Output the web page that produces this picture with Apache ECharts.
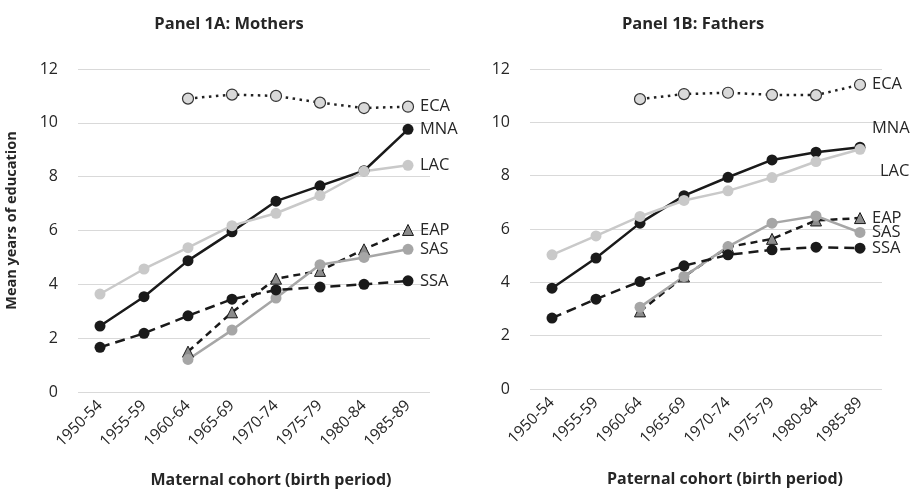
<!DOCTYPE html>
<html>
<head>
<meta charset="utf-8">
<script src="https://cdn.jsdelivr.net/npm/echarts@6/dist/echarts.min.js"></script>
<style>html,body{margin:0;padding:0;background:#fff;}#c{width:920px;height:496px;}</style>
</head>
<body>
<div id="c"></div>
<script>
const categories = ['1950-54','1955-59','1960-64','1965-69','1970-74','1975-79','1980-84','1985-89'];
const yTicks = [0, 2, 4, 6, 8, 10, 12];
const regions = ['ECA','MNA','LAC','EAP','SAS','SSA'];

// Panel 1A: Mothers
const mothersECA = [null, null, 10.9, 11.05, 11.0, 10.75, 10.55, 10.6];
const mothersMNA = [2.45, 3.54, 4.88, 5.95, 7.09, 7.66, 8.22, 9.76];
const mothersLAC = [3.64, 4.57, 5.36, 6.18, 6.64, 7.3, 8.2, 8.42];
const mothersEAP = [null, null, 1.5, 2.96, 4.21, 4.5, 5.3, 6.02];
const mothersSAS = [null, null, 1.21, 2.3, 3.49, 4.73, 5.0, 5.3];
const mothersSSA = [1.66, 2.18, 2.83, 3.45, 3.79, 3.9, 4.0, 4.13];

// Panel 1B: Fathers
const fathersECA = [null, null, 10.87, 11.06, 11.11, 11.03, 11.02, 11.41];
const fathersMNA = [3.78, 4.91, 6.22, 7.25, 7.94, 8.59, 8.88, 9.07];
const fathersLAC = [5.03, 5.74, 6.47, 7.07, 7.43, 7.93, 8.53, 8.99];
const fathersEAP = [null, null, 2.91, 4.22, 5.32, 5.63, 6.32, 6.41];
const fathersSAS = [null, null, 3.07, 4.22, 5.34, 6.22, 6.49, 5.87];
const fathersSSA = [2.66, 3.37, 4.03, 4.62, 5.03, 5.22, 5.32, 5.28];

const FONT = 'Open Sans';
const TXT = '#262626';

const styles = {
  ECA: {color:'#222', lineType:[2.5,4.5], symbol:'circle', fill:'#d9d9d9', border:'#333', bw:1.2, lw:2.5},
  MNA: {color:'#1a1a1a', lineType:'solid', symbol:'circle', fill:'#1a1a1a', border:'#1a1a1a', bw:0, lw:2.5},
  LAC: {color:'#c9c9c9', lineType:'solid', symbol:'circle', fill:'#c9c9c9', border:'#c9c9c9', bw:0, lw:2.5},
  EAP: {color:'#1a1a1a', lineType:[7,5], symbol:'triangle', fill:'#8c8c8c', border:'#1a1a1a', bw:1, lw:2.5},
  SAS: {color:'#a6a6a6', lineType:'solid', symbol:'circle', fill:'#a6a6a6', border:'#a6a6a6', bw:0, lw:2.5},
  SSA: {color:'#1a1a1a', lineType:[10,6], symbol:'circle', fill:'#1a1a1a', border:'#1a1a1a', bw:0, lw:2.5}
};

function mkSeries(name, data, idx, off) {
  const s = styles[name];
  return {
    name: name, type: 'line', xAxisIndex: idx, yAxisIndex: idx, data: data,
    symbol: s.symbol, symbolSize: 11,
    showAllSymbol: true, animation: false,
    lineStyle: {color: s.color, width: s.lw, type: s.lineType},
    itemStyle: {color: s.fill, borderColor: s.border, borderWidth: s.bw},
    endLabel: {show: true, formatter: '{a}', color: TXT, fontFamily: FONT, fontSize: 16.5, distance: 12, offset: off || [0,0]},
    emphasis: {disabled: true}
  };
}

const motherSets = {ECA: mothersECA, MNA: mothersMNA, LAC: mothersLAC, EAP: mothersEAP, SAS: mothersSAS, SSA: mothersSSA};
const fatherSets = {ECA: fathersECA, MNA: fathersMNA, LAC: fathersLAC, EAP: fathersEAP, SAS: fathersSAS, SSA: fathersSSA};
const fatherOffsets = {MNA: [0,-19], LAC: [8,22]};

const series = [];
regions.forEach(r => series.push(mkSeries(r, motherSets[r], 0)));
regions.forEach(r => series.push(mkSeries(r, fatherSets[r], 1, fatherOffsets[r])));

function xAxis(idx, name, pad, gap) {
  return {
    type: 'category', gridIndex: idx, data: categories, boundaryGap: true,
    axisLine: {show: false}, axisTick: {show: false},
    axisLabel: {rotate: 45, color: TXT, fontFamily: FONT, fontSize: 15.5, margin: 11, interval: 0},
    name: name, nameLocation: 'middle', nameGap: gap,
    nameTextStyle: {fontFamily: FONT, fontWeight: 'bold', fontSize: 16, color: '#262626', padding: [0,0,0,pad]}
  };
}
function yAxis(idx, name) {
  return {
    type: 'value', gridIndex: idx, min: yTicks[0], max: yTicks[yTicks.length-1], interval: yTicks[1]-yTicks[0],
    axisLine: {show: false}, axisTick: {show: false},
    splitLine: {show: true, lineStyle: {color: '#d9d9d9', width: 1.2}},
    axisLabel: {color: TXT, fontFamily: FONT, fontSize: 16, margin: 20},
    name: name, nameLocation: 'middle', nameRotate: 90, nameGap: 59,
    nameTextStyle: {fontFamily: FONT, fontWeight: 'bold', fontSize: 14.5, color: '#262626', padding: [0,0,0,20]}
  };
}

const chart = echarts.init(document.getElementById('c'), null, {renderer: 'canvas'});
chart.setOption({
  backgroundColor: '#fff',
  animation: false,
  title: [
    {text: 'Panel 1A: Mothers', left: 224, top: 11, textAlign: 'center',
     textStyle: {fontFamily: FONT, fontWeight: 'bold', fontSize: 16.5, color: '#262626'}},
    {text: 'Panel 1B: Fathers', left: 688, top: 11, textAlign: 'center',
     textStyle: {fontFamily: FONT, fontWeight: 'bold', fontSize: 16.5, color: '#262626'}}
  ],
  grid: [
    {left: 78, top: 69, width: 352, height: 323, containLabel: false, outerBoundsMode: 'none'},
    {left: 530, top: 69, width: 352, height: 320, containLabel: false, outerBoundsMode: 'none'}
  ],
  xAxis: [xAxis(0, 'Maternal cohort (birth period)', 34, 80), xAxis(1, 'Paternal cohort (birth period)', 38, 82)],
  yAxis: [yAxis(0, 'Mean years of education'), yAxis(1, '')],
  series: series
});
</script>
</body>
</html>
